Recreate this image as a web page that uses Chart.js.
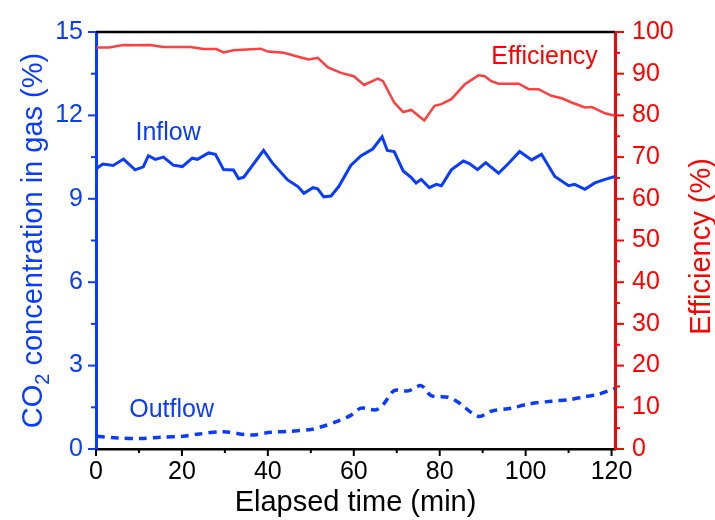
<!DOCTYPE html>
<html>
<head>
<meta charset="utf-8">
<script src="https://cdn.jsdelivr.net/npm/chart.js@4"></script>
<style>
html,body{margin:0;padding:0;background:#fff;}
#wrap{width:715px;height:520px;position:relative;}
</style>
</head>
<body>
<div id="wrap"><canvas id="c" width="715" height="520"></canvas></div>
<script>
// ---- data ----
const effTime = [0.2,3,6.4,9,12.6,15.7,22,25,28,29.7,32,38.3,40,43.7,47.7,49.5,51.6,54,57,60,62.4,65.6,66.8,69.4,71.5,73.4,76.4,78.8,80.4,82.7,85.8,89,90.5,92,93.7,98.4,100.7,103,106,108.4,110.7,113.8,115.4,118.5,120.8];
const effValues = [96.3,96.3,96.9,96.8,96.9,96.4,96.4,95.9,95.9,95.1,95.6,96.0,95.3,95.0,93.9,93.4,93.8,91.5,90.2,89.4,87.3,88.8,88.2,83.1,80.8,81.3,78.8,82.3,82.7,83.9,87.4,89.6,89.4,88.2,87.6,87.6,86.3,86.3,84.7,84.1,83.1,81.9,82.0,80.5,79.9];

const inflowTime = [0.2,1.6,4,6.4,9.1,11,12.2,13.8,15.7,18,20.1,22.4,23.6,26.2,27.8,29.7,32,33.2,34.4,39,41,44.6,47,48.4,50.5,51.6,53,54.7,56.5,59.3,61.7,64.4,66.6,67.8,69.4,71.5,73.4,74.5,75.7,77.6,79.2,80.4,82.7,85.5,86.9,88.8,90.7,93.7,96,98.6,101.4,103.7,106.8,110,111.4,113.8,116.1,118.5,120.8];
const inflowValues = [10.1,10.25,10.2,10.43,10.04,10.15,10.55,10.42,10.5,10.21,10.16,10.46,10.42,10.65,10.6,10.05,10.04,9.72,9.78,10.74,10.3,9.68,9.44,9.2,9.4,9.36,9.07,9.1,9.44,10.2,10.55,10.79,11.23,10.74,10.7,10.0,9.76,9.57,9.7,9.4,9.52,9.47,10.04,10.36,10.27,10.05,10.3,9.92,10.27,10.7,10.4,10.6,9.8,9.47,9.52,9.34,9.57,9.7,9.8];

const outflowTime = [0.2,5,10.3,15,20.3,23.5,29.7,36,40.7,45.4,50,52.3,56.3,59.3,61.7,65.2,67,69.4,72.7,75.7,78,82,84.3,89,92,96.7,100.7,106,110,113.8,117,120.8];
const outflowValues = [0.46,0.4,0.38,0.42,0.46,0.53,0.62,0.5,0.6,0.64,0.7,0.79,1.0,1.21,1.47,1.41,1.63,2.1,2.09,2.28,1.92,1.86,1.68,1.17,1.36,1.47,1.62,1.72,1.77,1.88,1.97,2.18];

const xTickValues = [0,20,40,60,80,100,120];
const xMinorTicks = [10,30,50,70,90,110];
const yTickValues = [0,3,6,9,12,15];
const yMinorTicks = [1.5,4.5,7.5,10.5,13.5];
const y1TickValues = [0,10,20,30,40,50,60,70,80,90,100];
const y1MinorTicks = [5,15,25,35,45,55,65,75,85,95];

const seriesLabels = ['Inflow','Outflow','Efficiency'];
const xTitle = 'Elapsed time (min)';
const yTitleParts = ['CO','2',' concentration in gas (%)'];
const y1Title = 'Efficiency (%)';

// ---- styling ----
const BLUE = '#0a3cff';
const RED = '#ff0000';
const RED_LINE = '#ff4040';
const FONT = "'Liberation Sans', Arial, sans-serif";

function pts(t, v){ return t.map((x,i)=>({x:x, y:v[i]})); }

const annotate = {
  id:'annotate',
  afterDraw(chart){
    const ctx = chart.ctx;
    const xs = chart.scales.x, ys = chart.scales.y, y1s = chart.scales.y1;
    const ca = chart.chartArea;
    ctx.save();
    // top frame line
    ctx.strokeStyle = '#000'; ctx.lineWidth = 2.5;
    ctx.beginPath(); ctx.moveTo(ca.left, ca.top); ctx.lineTo(ca.right, ca.top); ctx.stroke();
    // x ticks
    ctx.lineWidth = 2;
    ctx.strokeStyle = '#000';
    xTickValues.forEach(v=>{const p=xs.getPixelForValue(v); ctx.beginPath(); ctx.moveTo(p,ca.bottom); ctx.lineTo(p,ca.bottom+7); ctx.stroke();});
    xMinorTicks.forEach(v=>{const p=xs.getPixelForValue(v); ctx.beginPath(); ctx.moveTo(p,ca.bottom); ctx.lineTo(p,ca.bottom+4); ctx.stroke();});
    // left ticks
    ctx.strokeStyle = BLUE;
    yTickValues.forEach(v=>{const p=ys.getPixelForValue(v); ctx.beginPath(); ctx.moveTo(ca.left,p); ctx.lineTo(ca.left-8,p); ctx.stroke();});
    yMinorTicks.forEach(v=>{const p=ys.getPixelForValue(v); ctx.beginPath(); ctx.moveTo(ca.left,p); ctx.lineTo(ca.left-5,p); ctx.stroke();});
    // right ticks
    ctx.strokeStyle = RED;
    y1TickValues.forEach(v=>{const p=y1s.getPixelForValue(v); ctx.beginPath(); ctx.moveTo(ca.right,p); ctx.lineTo(ca.right+9,p); ctx.stroke();});
    y1MinorTicks.forEach(v=>{const p=y1s.getPixelForValue(v); ctx.beginPath(); ctx.moveTo(ca.right,p); ctx.lineTo(ca.right+5,p); ctx.stroke();});

    // in-plot labels
    ctx.textAlign = 'center'; ctx.textBaseline = 'middle';
    ctx.font = '25px ' + FONT;
    ctx.fillStyle = BLUE;
    ctx.fillText(seriesLabels[0], xs.getPixelForValue(16.8), ys.getPixelForValue(11.35));
    ctx.fillText(seriesLabels[1], xs.getPixelForValue(17.6), ys.getPixelForValue(1.4));
    ctx.fillStyle = RED;
    ctx.fillText(seriesLabels[2], xs.getPixelForValue(104.4), y1s.getPixelForValue(94));

    // x title
    ctx.fillStyle = '#000';
    ctx.font = '29px ' + FONT;
    ctx.textBaseline = 'alphabetic';
    ctx.fillText(xTitle, (ca.left+ca.right)/2, 511);

    // right title (reads bottom to top)
    ctx.save();
    ctx.translate(710, (ca.top+ca.bottom)/2 + 6);
    ctx.rotate(-Math.PI/2);
    ctx.fillStyle = RED;
    ctx.textAlign = 'center';
    ctx.fillText(y1Title, 0, 0);
    ctx.restore();

    // left title with subscript
    ctx.save();
    ctx.translate(42, (ca.top+ca.bottom)/2);
    ctx.rotate(-Math.PI/2);
    ctx.fillStyle = BLUE;
    ctx.textAlign = 'left';
    const big = '29px ' + FONT, small = '20px ' + FONT;
    ctx.font = big; const w0 = ctx.measureText(yTitleParts[0]).width;
    ctx.font = small; const w1 = ctx.measureText(yTitleParts[1]).width;
    ctx.font = big; const w2 = ctx.measureText(yTitleParts[2]).width;
    let x0 = -(w0+w1+w2)/2;
    ctx.font = big; ctx.fillText(yTitleParts[0], x0, 0);
    ctx.font = small; ctx.fillText(yTitleParts[1], x0+w0, 7);
    ctx.font = big; ctx.fillText(yTitleParts[2], x0+w0+w1, 0);
    ctx.restore();
    ctx.restore();
  }
};

new Chart(document.getElementById('c'), {
  type:'line',
  data:{
    datasets:[
      {label:seriesLabels[0], data:pts(inflowTime, inflowValues), yAxisID:'y', borderColor:BLUE, borderWidth:3, pointRadius:0, tension:0, fill:false},
      {label:seriesLabels[1], data:pts(outflowTime, outflowValues), yAxisID:'y', borderColor:BLUE, borderWidth:3.5, borderDash:[8,6], pointRadius:0, tension:0.3, fill:false},
      {label:seriesLabels[2], data:pts(effTime, effValues), yAxisID:'y1', borderColor:RED_LINE, borderWidth:2.5, pointRadius:0, tension:0, fill:false}
    ]
  },
  options:{
    responsive:false,
    animation:false,
    devicePixelRatio:1,
    layout:{padding:{top:27,left:0,right:0,bottom:0}},
    plugins:{legend:{display:false}, tooltip:{enabled:false}},
    scales:{
      x:{
        type:'linear', min:0, max:120.8,
        afterBuildTicks(s){ s.ticks = xTickValues.map(v=>({value:v})); },
        afterFit(s){ s.height = 71; },
        grid:{display:true, drawOnChartArea:false, drawTicks:false},
        border:{display:true, color:'#000', width:2.5},
        ticks:{color:'#000', font:{family:FONT, size:25}, padding:8, maxRotation:0, autoSkip:false}
      },
      y:{
        type:'linear', position:'left', min:0, max:15,
        afterBuildTicks(s){ s.ticks = yTickValues.map(v=>({value:v})); },
        afterFit(s){ s.width = 96; },
        grid:{display:true, drawOnChartArea:false, drawTicks:false},
        border:{display:true, color:BLUE, width:3},
        ticks:{color:BLUE, font:{family:FONT, size:25}, padding:13, autoSkip:false}
      },
      y1:{
        type:'linear', position:'right', min:0, max:100,
        afterBuildTicks(s){ s.ticks = y1TickValues.map(v=>({value:v})); },
        afterFit(s){ s.width = 100; },
        grid:{display:true, drawOnChartArea:false, drawTicks:false},
        border:{display:true, color:RED, width:3},
        ticks:{color:RED, font:{family:FONT, size:25}, padding:17, autoSkip:false}
      }
    }
  },
  plugins:[annotate]
});
</script>
</body>
</html>
